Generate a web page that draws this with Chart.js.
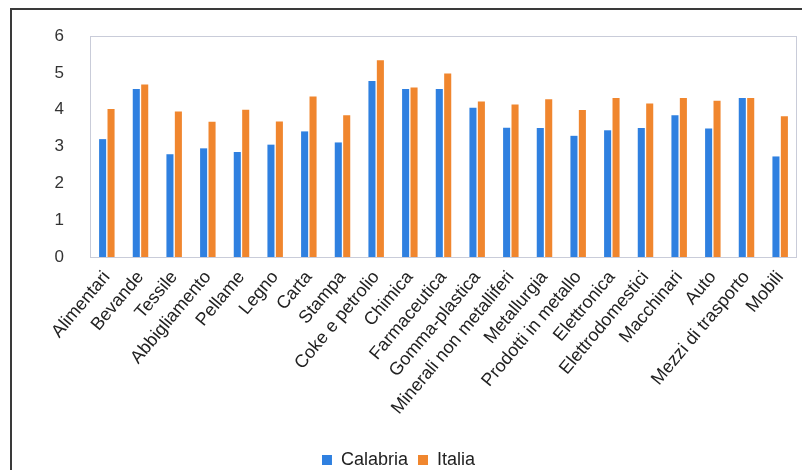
<!DOCTYPE html>
<html lang="it">
<head>
<meta charset="UTF-8" />
<title>Calabria e Italia per settore</title>
<script src="https://cdn.jsdelivr.net/npm/chart.js@4.4.0/dist/chart.umd.min.js"></script>
<style>
  body { margin: 0; background: #fff; }
  #wrap { position: relative; width: 802px; height: 470px; }
  /* cornice del grafico: solo lato sinistro e superiore */
  #frame { position: absolute; left: 10px; top: 8px; right: 0; bottom: 0;
           border-top: 2px solid #3a3a3a; border-left: 2px solid #3a3a3a; }
  canvas { position: absolute; left: 0; top: 0; }
</style>
</head>
<body>
<div id="wrap">
  <div id="frame"></div>
  <canvas id="chart" width="802" height="470"></canvas>
</div>
<script>
// settori
const settori = ['Alimentari', 'Bevande', 'Tessile', 'Abbigliamento', 'Pellame', 'Legno', 'Carta',
  'Stampa', 'Coke e petrolio', 'Chimica', 'Farmaceutica', 'Gomma-plastica',
  'Minerali non metalliferi', 'Metallurgia', 'Prodotti in metallo', 'Elettronica',
  'Elettrodomestici', 'Macchinari', 'Auto', 'Mezzi di trasporto', 'Mobili'];

// valori per serie
const calabria = [3.20, 4.56, 2.79, 2.95, 2.85, 3.05, 3.41, 3.11, 4.78, 4.56, 4.56, 4.05,
  3.51, 3.50, 3.29, 3.44, 3.50, 3.85, 3.49, 4.32, 2.73];
const italia = [4.02, 4.68, 3.95, 3.67, 4.00, 3.68, 4.36, 3.85, 5.34, 4.60, 4.98, 4.22,
  4.14, 4.28, 3.99, 4.32, 4.17, 4.32, 4.24, 4.32, 3.82];

const yTicks = [0, 1, 2, 3, 4, 5, 6];

const FONT = "'Liberation Sans', Arial, sans-serif";

// bordo leggero attorno all'area del grafico
const plotBorder = {
  id: 'plotBorder',
  beforeDatasetsDraw(chart) {
    const { ctx, chartArea: a } = chart;
    ctx.save();
    ctx.strokeStyle = '#c9ccd9';
    ctx.lineWidth = 1;
    ctx.strokeRect(a.left + 0.5, a.top + 0.5, a.right - a.left - 1, a.bottom - a.top);
    ctx.restore();
  }
};

new Chart(document.getElementById('chart'), {
  type: 'bar',
  data: {
    labels: settori,
    datasets: [
      { label: 'Calabria', data: calabria, backgroundColor: '#2f80e0' },
      { label: 'Italia', data: italia, backgroundColor: '#f0862e' }
    ]
  },
  options: {
    responsive: false,
    animation: false,
    layout: { padding: { top: 36, right: 5, left: 0, bottom: -9 } },
    datasets: { bar: { categoryPercentage: 0.5, barPercentage: 0.84 } },
    plugins: {
      legend: {
        position: 'bottom',
        labels: { boxWidth: 10, boxHeight: 10, padding: 10, color: '#222',
                  font: { family: FONT, size: 18 } }
      },
      tooltip: { enabled: false }
    },
    scales: {
      x: {
        grid: { display: false },
        border: { display: false },
        ticks: { autoSkip: false, minRotation: 50, maxRotation: 50, color: '#222', padding: 2,
                 font: { family: FONT, size: 18 } },
        afterFit(s) { s.height = 184; }
      },
      y: {
        min: 0, max: 6,
        grid: { display: false },
        border: { display: false },
        afterBuildTicks(s) { s.ticks = yTicks.map(v => ({ value: v })); },
        ticks: { color: '#333', padding: 18, font: { family: FONT, size: 17 } },
        afterFit(s) { s.width = 90; }
      }
    }
  },
  plugins: [plotBorder]
});
</script>
</body>
</html>
